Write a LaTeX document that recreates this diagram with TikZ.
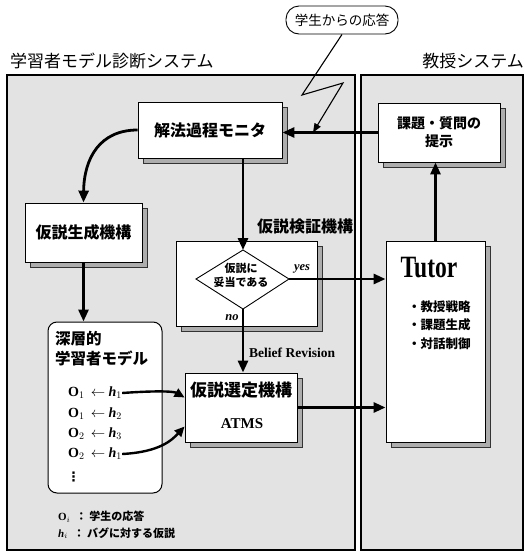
\documentclass[tikz,border=0pt]{standalone}
\usepackage{fontspec}
\setmainfont{Liberation Serif}
\newfontfamily\cjk{Noto Sans CJK JP}
\newfontfamily\djv{DejaVu Sans}
\usetikzlibrary{arrows.meta,shadows}
\newcommand{\hh}[1]{\textbf{\textit{h}}$_{#1}$}
\newcommand{\oo}[1]{\textbf{O}$_{#1}$}
\begin{document}
\begin{tikzpicture}[x=1pt,y=-1pt,
  panel/.style={draw=black, line width=1.3pt, fill=black!11},
  sh/.style={drop shadow={shadow xshift=5pt, shadow yshift=-5pt, fill=black!32, draw=black!80, line width=0.5pt, opacity=1}},
  wbox/.style={draw=black, line width=0.9pt, fill=white, inner sep=0pt, sh},
  arr/.style={line width=2.8pt, -{Triangle[length=12pt,width=10pt]}},
  carr/.style={line width=2.4pt, -{Triangle[length=10pt,width=9pt]}},
  jb/.style={font=\cjk\bfseries\fontsize{16}{19}\selectfont},
  jtitle/.style={font=\cjk\fontsize{17}{20}\selectfont},
  row/.style={anchor=west, inner sep=0pt, font=\bfseries\fontsize{14}{16}\selectfont},
  lab/.style={inner sep=0pt},
]
\useasboundingbox (0,0) rectangle (525,555);

% panels
\draw[panel] (7,75) rectangle (355,550);
\draw[panel] (361,75) rectangle (523,550);

% titles
\node[jtitle, anchor=west, lab] (t1) at (10,61) {学習者モデル診断システム};
\node[jtitle, anchor=east, lab] (t2) at (524,61) {教授システム};

% student response pill
\node[draw, line width=0.9pt, fill=white, rounded corners=13pt, minimum width=112, minimum height=28, inner sep=0pt,
      font=\cjk\fontsize{13.5}{15}\selectfont] (resp) at (342,20) {学生からの応答};

% boxes
\node[wbox, minimum width=144, minimum height=56, jb] (mon) at (210,130) {解法過程モニタ};
\node[wbox, minimum width=122, minimum height=59, align=center,
      font=\cjk\bfseries\fontsize{14}{18}\selectfont] (kadai) at (439,132.5) {課題・質問の\\提示};
\node[wbox, minimum width=117, minimum height=59, jb] (gen) at (83.5,232.5) {仮説生成機構};
\node[wbox, minimum width=141, minimum height=85] (ver) at (246.5,283.5) {};
\node[wbox, minimum width=99, minimum height=201] (tutor) at (435.5,341.5) {};
\node[wbox, minimum width=112, minimum height=69] (atms) at (241,407.5) {};
\node[draw=black, line width=1pt, fill=white, rounded corners=9pt, minimum width=114, minimum height=171, inner sep=0pt] (model) at (105,407.5) {};

% verification label
\node[jb, lab] (verlab) at (305,226) {仮説検証機構};

% diamond
\coordinate (dtop) at (243,250);
\coordinate (dright) at (289,279);
\coordinate (dbot) at (243,309);
\coordinate (dleft) at (196,279);
\draw[line width=0.9pt, fill=white] (dtop) -- (dright) -- (dbot) -- (dleft) -- cycle;
\node[lab, align=center, font=\cjk\bfseries\fontsize{11}{14}\selectfont] (dtext) at (241,275) {仮説に\\妥当である};
\node[lab, font=\bfseries\itshape\fontsize{12.5}{14}\selectfont] (yes) at (302,269) {yes};
\node[lab, font=\bfseries\itshape\fontsize{12.5}{14}\selectfont] (no) at (232,318) {no};

% tutor contents
\node[lab, font=\bfseries\fontsize{31}{34}\selectfont] (tutortxt) at (429,268) {\scalebox{0.76}[1]{Tutor}};
\node[lab, anchor=west, align=left, font=\cjk\bfseries\fontsize{12.5}{18.5}\selectfont] (tlist) at (408,325) {・教授戦略\\・課題生成\\・対話制御};

% atms contents
\node[lab, font=\cjk\bfseries\fontsize{17}{19}\selectfont] (atmsj) at (241,390) {仮説選定機構};
\node[lab, font=\bfseries\fontsize{15}{17}\selectfont] (atmse) at (242,424) {ATMS};

% model contents
\node[lab, anchor=west, align=left, font=\cjk\bfseries\fontsize{15.5}{20}\selectfont] (mlab) at (55,349) {深層的\\学習者モデル};
\node[row] (r1) at (68,393) {\oo{1}\;\,$\leftarrow$ \hh{1}};
\node[row] (r2) at (68,414) {\oo{1}\;\,$\leftarrow$ \hh{2}};
\node[row] (r3) at (68,434) {\oo{2}\;\,$\leftarrow$ \hh{3}};
\node[row] (r4) at (68,454) {\oo{2}\;\,$\leftarrow$ \hh{1}};
\node[row, font=\djv\bfseries\fontsize{13}{14}\selectfont] (r5) at (67,477) {⋮};

% legend
\node[lab, anchor=west, font=\fontsize{11}{13}\selectfont] (leg1) at (58,517) {\oo{i}\; {\cjk\bfseries ： 学生の応答}};
\node[lab, anchor=west, font=\fontsize{11}{13}\selectfont] (leg2) at (58,533) {\hh{i}\; {\cjk\bfseries ： バグに対する仮説}};

% Belief revision
\node[lab, anchor=west, font=\bfseries\fontsize{13.5}{15}\selectfont] (belief) at (249,353) {Belief Revision};

% connectors
\coordinate (hit) at (313,132.5);
\draw[line width=1.1pt, -{Triangle[length=9pt,width=7pt]}] (resp.south) -- (302,95) -- (343,83) -- (hit);
\draw[arr] (kadai.west) -- (kadai.west -| mon.east);
\draw[arr] (mon.west) .. controls (100,130) and (84,158) .. (gen.north);
\draw[arr] (gen.south) -- (gen.south |- model.north);
\draw[arr] (mon.south -| dtop) -- (dtop);
\draw[arr] (dbot) -- (dbot |- atms.north);
\draw[arr] (dright) -- (dright -| tutor.west);
\draw[arr] (atms.east) -- (atms.east -| tutor.west);
\draw[arr] (tutor.north) -- (tutor.north |- kadai.south);
\draw[carr] (r1.east) .. controls (165,390) and (175,392) .. ([yshift=10pt]atms.west);
\draw[carr] (r4.east) .. controls (160,452) and (172,440) .. ([yshift=-19pt]atms.west);
\end{tikzpicture}
\end{document}
